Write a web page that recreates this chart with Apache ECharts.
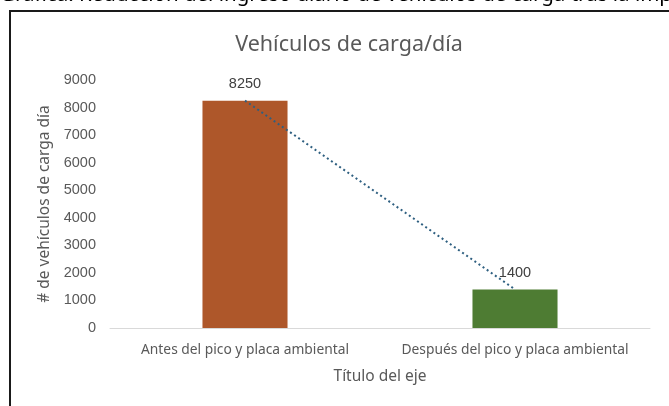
<!DOCTYPE html>
<html>
<head>
<meta charset="utf-8">
<script src="https://cdn.jsdelivr.net/npm/echarts@6/dist/echarts.min.js"></script>
<style>
html,body{margin:0;padding:0;background:#fff;}
#main{width:669px;height:406px;}
</style>
</head>
<body>
<div id="main"></div>
<script>
// datos
var categorias = ['Antes del pico y placa ambiental', 'Después del pico y placa ambiental'];
var vehiculos = [8250, 1400];
var colores = ['#ae572a', '#4e7c33'];
var ticksY = [0, 1000, 2000, 3000, 4000, 5000, 6000, 7000, 8000, 9000];

var chart = echarts.init(document.getElementById('main'));

var option = {
    backgroundColor: '#fff',
    animation: false,
    title: {
        text: 'Vehículos de carga/día',
        left: 344,
        textAlign: 'center',
        top: 29,
        textStyle: {
            color: '#595959',
            fontSize: 21.5,
            fontWeight: 'normal',
            fontFamily: 'Noto Sans'
        }
    },
    graphic: [
        {
            type: 'text',
            left: 0,
            top: -15,
            style: {
                text: 'Gráfica: Reducción del ingreso diario de vehículos de carga tras la implementación del pico y placa',
                fill: '#000',
                font: '20.5px "Noto Sans"'
            }
        },
        {
            type: 'rect',
            shape: {x: 10, y: 11, width: 700, height: 420},
            style: {fill: 'none', stroke: '#1a1a1a', lineWidth: 2}
        }
    ],
    grid: {
        left: 110,
        right: 19,
        top: 80,
        bottom: 78
    },
    xAxis: {
        type: 'category',
        data: categorias,
        name: 'Título del eje',
        nameLocation: 'middle',
        nameGap: 41,
        nameTextStyle: {color: '#595959', fontSize: 15.5, fontFamily: 'Noto Sans'},
        axisLine: {lineStyle: {color: '#d9d9d9', width: 1}},
        axisTick: {show: false},
        axisLabel: {
            color: '#595959',
            fontSize: 13.8,
            margin: 15,
            interval: 0,
            hideOverlap: false,
            fontFamily: 'Noto Sans'
        }
    },
    yAxis: {
        type: 'value',
        min: ticksY[0],
        max: ticksY[ticksY.length - 1],
        interval: 1000,
        name: '# de vehículos de carga día',
        nameLocation: 'middle',
        nameGap: 51,
        nameTextStyle: {color: '#595959', fontSize: 15.5, fontFamily: 'Noto Sans'},
        axisLine: {show: false},
        axisTick: {show: false},
        splitLine: {show: false},
        axisLabel: {
            color: '#595959',
            fontSize: 14.5,
            margin: 14,
            fontFamily: 'Liberation Sans',
            formatter: function(v){ return String(v); }
        }
    },
    series: [
        {
            name: 'Vehículos',
            type: 'bar',
            barWidth: '31.5%',
            data: vehiculos.map(function(v, i){
                return {value: v, itemStyle: {color: colores[i]}};
            }),
            label: {
                show: true,
                position: 'top',
                distance: 9,
                color: '#404040',
                fontSize: 14.5,
                fontFamily: 'Liberation Sans'
            }
        },
        {
            name: 'Tendencia',
            type: 'line',
            data: vehiculos,
            symbol: 'none',
            z: 5,
            lineStyle: {color: '#2e5f80', width: 2, type: [2, 3]}
        }
    ]
};

chart.setOption(option);
</script>
</body>
</html>
